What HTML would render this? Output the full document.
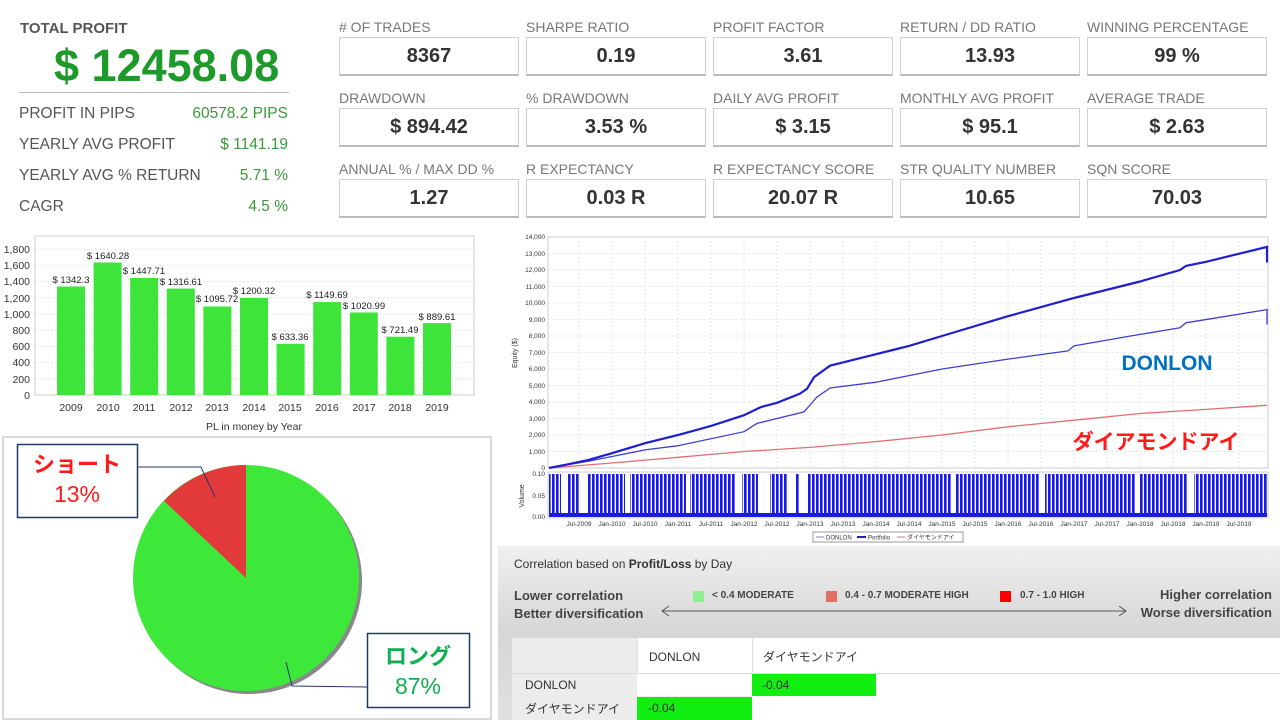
<!DOCTYPE html>
<html><head><meta charset="utf-8"><style>
body{margin:0;width:1280px;height:720px;background:#fff;position:relative;overflow:hidden;font-family:"Liberation Sans","Noto Sans CJK JP",sans-serif}
.a{position:absolute;white-space:nowrap}
.lbl{font-size:14px;color:#777}
.box{position:absolute;width:178px;height:36px;border:1px solid #d0d0d0;border-bottom:2px solid #bbb;font-weight:bold;font-size:20px;color:#333;text-align:center;line-height:36px}
.row{font-size:15.5px;color:#555}
.val{font-size:15.5px;color:#3a9a3a;text-align:right;width:150px}
</style></head><body>
<div class="a" style="left:20px;top:20px;font-size:15px;font-weight:bold;color:#555">TOTAL PROFIT</div>
<div class="a" style="left:54px;top:40px;font-size:45px;font-weight:bold;color:#1e9a2a">$ 12458.08</div>
<div class="a" style="left:19px;top:92px;width:270px;height:1px;background:#bbb"></div>
<div class="a row" style="left:19px;top:105px">PROFIT IN PIPS</div><div class="a val" style="left:138px;top:105px">60578.2 PIPS</div>
<div class="a row" style="left:19px;top:136px">YEARLY AVG PROFIT</div><div class="a val" style="left:138px;top:136px">$ 1141.19</div>
<div class="a row" style="left:19px;top:167px">YEARLY AVG % RETURN</div><div class="a val" style="left:138px;top:167px">5.71 %</div>
<div class="a row" style="left:19px;top:198px">CAGR</div><div class="a val" style="left:138px;top:198px">4.5 %</div>

<div class="a lbl" style="left:339px;top:19px"># OF TRADES</div><div class="box" style="left:339px;top:37px">8367</div>
<div class="a lbl" style="left:526px;top:19px">SHARPE RATIO</div><div class="box" style="left:526px;top:37px">0.19</div>
<div class="a lbl" style="left:713px;top:19px">PROFIT FACTOR</div><div class="box" style="left:713px;top:37px">3.61</div>
<div class="a lbl" style="left:900px;top:19px">RETURN / DD RATIO</div><div class="box" style="left:900px;top:37px">13.93</div>
<div class="a lbl" style="left:1087px;top:19px">WINNING PERCENTAGE</div><div class="box" style="left:1087px;top:37px">99 %</div>

<div class="a lbl" style="left:339px;top:90px">DRAWDOWN</div><div class="box" style="left:339px;top:108px">$ 894.42</div>
<div class="a lbl" style="left:526px;top:90px">% DRAWDOWN</div><div class="box" style="left:526px;top:108px">3.53 %</div>
<div class="a lbl" style="left:713px;top:90px">DAILY AVG PROFIT</div><div class="box" style="left:713px;top:108px">$ 3.15</div>
<div class="a lbl" style="left:900px;top:90px">MONTHLY AVG PROFIT</div><div class="box" style="left:900px;top:108px">$ 95.1</div>
<div class="a lbl" style="left:1087px;top:90px">AVERAGE TRADE</div><div class="box" style="left:1087px;top:108px">$ 2.63</div>

<div class="a lbl" style="left:339px;top:161px">ANNUAL % / MAX DD %</div><div class="box" style="left:339px;top:179px">1.27</div>
<div class="a lbl" style="left:526px;top:161px">R EXPECTANCY</div><div class="box" style="left:526px;top:179px">0.03 R</div>
<div class="a lbl" style="left:713px;top:161px">R EXPECTANCY SCORE</div><div class="box" style="left:713px;top:179px">20.07 R</div>
<div class="a lbl" style="left:900px;top:161px">STR QUALITY NUMBER</div><div class="box" style="left:900px;top:179px">10.65</div>
<div class="a lbl" style="left:1087px;top:161px">SQN SCORE</div><div class="box" style="left:1087px;top:179px">70.03</div>

<svg class="a" style="left:0;top:0" width="1280" height="720" font-family="Liberation Sans, Noto Sans CJK JP, sans-serif">
<rect x="35" y="236" width="439" height="159" fill="#fff" stroke="#ccc"/>
<g stroke="#e4e4e4" stroke-dasharray="2,2">
<line x1="35" x2="474" y1="378.8" y2="378.8"/><line x1="35" x2="474" y1="362.6" y2="362.6"/><line x1="35" x2="474" y1="346.4" y2="346.4"/><line x1="35" x2="474" y1="330.2" y2="330.2"/><line x1="35" x2="474" y1="314" y2="314"/><line x1="35" x2="474" y1="297.8" y2="297.8"/><line x1="35" x2="474" y1="281.6" y2="281.6"/><line x1="35" x2="474" y1="265.4" y2="265.4"/><line x1="35" x2="474" y1="249.2" y2="249.2"/></g>
<g font-size="10.5" fill="#333" text-anchor="end">
<text x="30" y="399">0</text><text x="30" y="383">200</text><text x="30" y="366">400</text><text x="30" y="350">600</text><text x="30" y="334">800</text><text x="30" y="318">1,000</text><text x="30" y="302">1,200</text><text x="30" y="285">1,400</text><text x="30" y="269">1,600</text><text x="30" y="253">1,800</text></g>
<g fill="#3ee43a">
<rect x="57" y="286.5" width="28" height="108.5"/><rect x="93.6" y="262.5" width="28" height="132.5"/><rect x="130.2" y="278" width="28" height="117"/><rect x="166.8" y="288.6" width="28" height="106.4"/><rect x="203.4" y="306.5" width="28" height="88.5"/><rect x="240" y="298" width="28" height="97"/><rect x="276.6" y="343.8" width="28" height="51.2"/><rect x="313.2" y="302.1" width="28" height="92.9"/><rect x="349.8" y="312.5" width="28" height="82.5"/><rect x="386.4" y="336.7" width="28" height="58.3"/><rect x="423" y="323.1" width="28" height="71.9"/></g>
<g font-size="9.5" fill="#222" text-anchor="middle">
<text x="71" y="283">$ 1342.3</text><text x="108" y="259">$ 1640.28</text><text x="144" y="274">$ 1447.71</text><text x="181" y="285">$ 1316.61</text><text x="217" y="302">$ 1095.72</text><text x="254" y="294">$ 1200.32</text><text x="290" y="340">$ 633.36</text><text x="327" y="298">$ 1149.69</text><text x="364" y="309">$ 1020.99</text><text x="400" y="333">$ 721.49</text><text x="437" y="320">$ 889.61</text></g>
<g font-size="10.5" fill="#333" text-anchor="middle">
<text x="71" y="411">2009</text><text x="108" y="411">2010</text><text x="144" y="411">2011</text><text x="181" y="411">2012</text><text x="217" y="411">2013</text><text x="254" y="411">2014</text><text x="290" y="411">2015</text><text x="327" y="411">2016</text><text x="364" y="411">2017</text><text x="400" y="411">2018</text><text x="437" y="411">2019</text>
<text x="254" y="430">PL in money by Year</text></g>

<rect x="3" y="437" width="488" height="282" fill="#fff" stroke="#ccc" stroke-width="1.5"/>
<circle cx="249" cy="581" r="113" fill="#888"/>
<circle cx="246" cy="578" r="113" fill="#3ee83a"/>
<path d="M246,578 L246,465 A113,113 0 0 0 164,501 Z" fill="#e23a3a"/>
<polyline points="137,467 201,467 215,497" fill="none" stroke="#1f3a6a" stroke-width="1"/>
<polyline points="367,687 292,686 286,662" fill="none" stroke="#1f3a6a" stroke-width="1"/>
<rect x="17.5" y="444.5" width="120" height="73" fill="#fff" stroke="#1f3a6a" stroke-width="1.5"/>
<text x="77" y="472" font-size="22" font-weight="bold" fill="#ff1a1a" text-anchor="middle">ショート</text>
<text x="77" y="502" font-size="23" fill="#ff1a1a" text-anchor="middle">13%</text>
<rect x="367.5" y="633.5" width="102" height="74" fill="#fff" stroke="#1f3a6a" stroke-width="1.5"/>
<text x="418" y="664" font-size="22" font-weight="bold" fill="#10b050" text-anchor="middle">ロング</text>
<text x="418" y="694" font-size="23" fill="#10b050" text-anchor="middle">87%</text>

<rect x="548" y="237" width="720" height="231" fill="#fff" stroke="#ccc"/>
<g stroke="#e6e6e6" stroke-dasharray="2,2">
<line x1="548" x2="1268" y1="451.5" y2="451.5"/><line x1="548" x2="1268" y1="435" y2="435"/><line x1="548" x2="1268" y1="418.5" y2="418.5"/><line x1="548" x2="1268" y1="402" y2="402"/><line x1="548" x2="1268" y1="385.5" y2="385.5"/><line x1="548" x2="1268" y1="369" y2="369"/><line x1="548" x2="1268" y1="352.5" y2="352.5"/><line x1="548" x2="1268" y1="336" y2="336"/><line x1="548" x2="1268" y1="319.5" y2="319.5"/><line x1="548" x2="1268" y1="303" y2="303"/><line x1="548" x2="1268" y1="286.5" y2="286.5"/><line x1="548" x2="1268" y1="270" y2="270"/><line x1="548" x2="1268" y1="253.5" y2="253.5"/>
<line y1="237" y2="468" x1="579" x2="579"/><line y1="237" y2="468" x1="612" x2="612"/><line y1="237" y2="468" x1="645" x2="645"/><line y1="237" y2="468" x1="678" x2="678"/><line y1="237" y2="468" x1="711" x2="711"/><line y1="237" y2="468" x1="744" x2="744"/><line y1="237" y2="468" x1="777" x2="777"/><line y1="237" y2="468" x1="810" x2="810"/><line y1="237" y2="468" x1="843" x2="843"/><line y1="237" y2="468" x1="876" x2="876"/><line y1="237" y2="468" x1="909" x2="909"/><line y1="237" y2="468" x1="942" x2="942"/><line y1="237" y2="468" x1="975" x2="975"/><line y1="237" y2="468" x1="1008" x2="1008"/><line y1="237" y2="468" x1="1041" x2="1041"/><line y1="237" y2="468" x1="1074" x2="1074"/><line y1="237" y2="468" x1="1107" x2="1107"/><line y1="237" y2="468" x1="1140" x2="1140"/><line y1="237" y2="468" x1="1173" x2="1173"/><line y1="237" y2="468" x1="1206" x2="1206"/><line y1="237" y2="468" x1="1239" x2="1239"/></g>
<g font-size="6.5" fill="#333" text-anchor="end">
<text x="545" y="470">0</text><text x="545" y="454">1,000</text><text x="545" y="437">2,000</text><text x="545" y="421">3,000</text><text x="545" y="404">4,000</text><text x="545" y="388">5,000</text><text x="545" y="371">6,000</text><text x="545" y="355">7,000</text><text x="545" y="338">8,000</text><text x="545" y="322">9,000</text><text x="545" y="305">10,000</text><text x="545" y="289">11,000</text><text x="545" y="272">12,000</text><text x="545" y="256">13,000</text><text x="545" y="239">14,000</text>
<text x="545" y="476">0.10</text><text x="545" y="498">0.05</text><text x="545" y="519">0.00</text></g>
<text font-size="7" fill="#333" transform="translate(517,353) rotate(-90)" text-anchor="middle">Equity ($)</text>
<text font-size="7" fill="#333" transform="translate(524,496) rotate(-90)" text-anchor="middle">Volume</text>
<polyline fill="none" stroke="#e07070" stroke-width="1.3" points="549,468 612,463 678,457.3 744,451.5 810,447.4 876,441.6 942,435 1008,426.8 1074,420.2 1140,413.5 1206,409.4 1267,405.3"/>
<polyline fill="none" stroke="#4040d0" stroke-width="1.3" points="549,468 589,461.1 612,456.5 645,449.9 678,445.7 744,431.7 757,423.4 804,411.9 817,397 830,388 876,382.2 909,375.6 942,369 1008,359.1 1068,350.9 1074,345.9 1140,334.4 1180,327.8 1186,322.8 1267,309.6 1267,324.5"/>
<polyline fill="none" stroke="#1f1fd0" stroke-width="2.2" points="549,468 566,464.7 589,459.8 612,453.2 645,443.2 678,435 711,425.9 744,415.2 761,407 777,402.8 800,393.7 807,388.8 814,377.2 830,365.7 876,354.2 909,345.9 942,336 1008,316.2 1074,298 1140,281.5 1180,270 1186,265.9 1206,261.8 1267,246.9 1267,262.5"/>
<text x="1167" y="370" font-size="21" font-weight="bold" fill="#0070c0" text-anchor="middle">DONLON</text>
<text x="1156" y="449" font-size="21" font-weight="bold" fill="#ff1a1a" text-anchor="middle">ダイアモンドアイ</text>
<rect x="548" y="472" width="720" height="46" fill="#fff" stroke="#ccc"/>
<defs><pattern id="vb" width="4" height="50" patternUnits="userSpaceOnUse"><rect x="0" y="0" width="2" height="50" fill="#1a1ae0"/><rect x="2" y="0" width="1" height="50" fill="#7070ee"/></pattern></defs>
<rect x="549" y="474" width="718" height="40" fill="url(#vb)"/>
<g fill="#fff"><rect x="561" y="474" width="6" height="39"/><rect x="580" y="474" width="7" height="39"/><rect x="625" y="474" width="5" height="39"/><rect x="686" y="474" width="4" height="39"/><rect x="736" y="474" width="6" height="39"/><rect x="758" y="474" width="12" height="39"/><rect x="787" y="474" width="8" height="39"/><rect x="800" y="474" width="7" height="39"/><rect x="952" y="474" width="4" height="39"/><rect x="1040" y="474" width="5" height="39"/><rect x="1135" y="474" width="4" height="39"/><rect x="1188" y="474" width="6" height="39"/></g>
<rect x="549" y="513" width="718" height="4" fill="#1a1ae0"/>
<g font-size="6.5" fill="#333" text-anchor="middle">
<text x="579" y="526">Jul-2009</text><text x="612" y="526">Jan-2010</text><text x="645" y="526">Jul-2010</text><text x="678" y="526">Jan-2011</text><text x="711" y="526">Jul-2011</text><text x="744" y="526">Jan-2012</text><text x="777" y="526">Jul-2012</text><text x="810" y="526">Jan-2013</text><text x="843" y="526">Jul-2013</text><text x="876" y="526">Jan-2014</text><text x="909" y="526">Jul-2014</text><text x="942" y="526">Jan-2015</text><text x="975" y="526">Jul-2015</text><text x="1008" y="526">Jan-2016</text><text x="1041" y="526">Jul-2016</text><text x="1074" y="526">Jan-2017</text><text x="1107" y="526">Jul-2017</text><text x="1140" y="526">Jan-2018</text><text x="1173" y="526">Jul-2018</text><text x="1206" y="526">Jan-2019</text><text x="1239" y="526">Jul-2019</text></g>
<rect x="813" y="532" width="150" height="10" fill="#fff" stroke="#999"/>
<g font-size="6" fill="#333"><line x1="816" x2="824" y1="537" y2="537" stroke="#8080e0"/><text x="826" y="539.5">DONLON</text><line x1="857" x2="866" y1="537" y2="537" stroke="#1f1fd0" stroke-width="2"/><text x="868" y="539.5">Portfolio</text><line x1="897" x2="905" y1="537" y2="537" stroke="#e07070"/><text x="907" y="539.5">ダイヤモンドアイ</text></g>
</svg>

<div class="a" style="left:498px;top:546px;width:782px;height:174px;background:linear-gradient(#f0f0f0,#d6d6d6 50%,#e0e0e0)"></div>
<div class="a" style="left:514px;top:557px;font-size:12px;color:#333">Correlation based on <b>Profit/Loss</b> by Day</div>
<div class="a" style="left:514px;top:587px;font-size:13px;font-weight:bold;color:#444;line-height:18px">Lower correlation<br>Better diversification</div>
<div class="a" style="left:1140px;top:586px;width:132px;text-align:right;font-size:13px;font-weight:bold;color:#444;line-height:18px">Higher correlation<br>Worse diversification</div>
<div class="a" style="left:693px;top:591px;width:11px;height:11px;background:#90ee90"></div><div class="a" style="left:712px;top:590px;font-size:10px;font-weight:bold;color:#444">&lt; 0.4 MODERATE</div>
<div class="a" style="left:826px;top:591px;width:11px;height:11px;background:#e07060"></div><div class="a" style="left:845px;top:590px;font-size:10px;font-weight:bold;color:#444">0.4 - 0.7 MODERATE HIGH</div>
<div class="a" style="left:1000px;top:591px;width:11px;height:11px;background:#f00"></div><div class="a" style="left:1020px;top:590px;font-size:10px;font-weight:bold;color:#444">0.7 - 1.0 HIGH</div>
<svg class="a" style="left:660px;top:604px" width="470" height="14"><line x1="2" y1="7" x2="466" y2="7" stroke="#555"/><polyline points="9,2 2,7 9,12" fill="none" stroke="#555"/><polyline points="459,2 466,7 459,12" fill="none" stroke="#555"/></svg>
<div class="a" style="left:512px;top:638px;width:768px;height:82px;background:#fff"></div>
<div class="a" style="left:512px;top:638px;width:125px;height:82px;background:#ececec"></div>
<div class="a" style="left:637px;top:638px;width:1px;height:35px;background:#ddd"></div>
<div class="a" style="left:752px;top:638px;width:1px;height:35px;background:#ddd"></div>
<div class="a" style="left:512px;top:673px;width:768px;height:1px;background:#ddd"></div>
<div class="a" style="left:637px;top:696px;width:115px;height:24px;background:#ececec"></div>
<div class="a" style="left:752px;top:674px;width:124px;height:22px;background:#11ee11"></div>
<div class="a" style="left:637px;top:697px;width:115px;height:23px;background:#11ee11"></div>
<div class="a" style="left:649px;top:650px;font-size:12px;color:#333">DONLON</div>
<div class="a" style="left:763px;top:648px;font-size:12px;color:#333">ダイヤモンドアイ</div>
<div class="a" style="left:525px;top:678px;font-size:12px;color:#333">DONLON</div>
<div class="a" style="left:525px;top:700px;font-size:12px;color:#333">ダイヤモンドアイ</div>
<div class="a" style="left:762px;top:678px;font-size:12px;color:#333">-0.04</div>
<div class="a" style="left:648px;top:701px;font-size:12px;color:#333">-0.04</div>
</body></html>
